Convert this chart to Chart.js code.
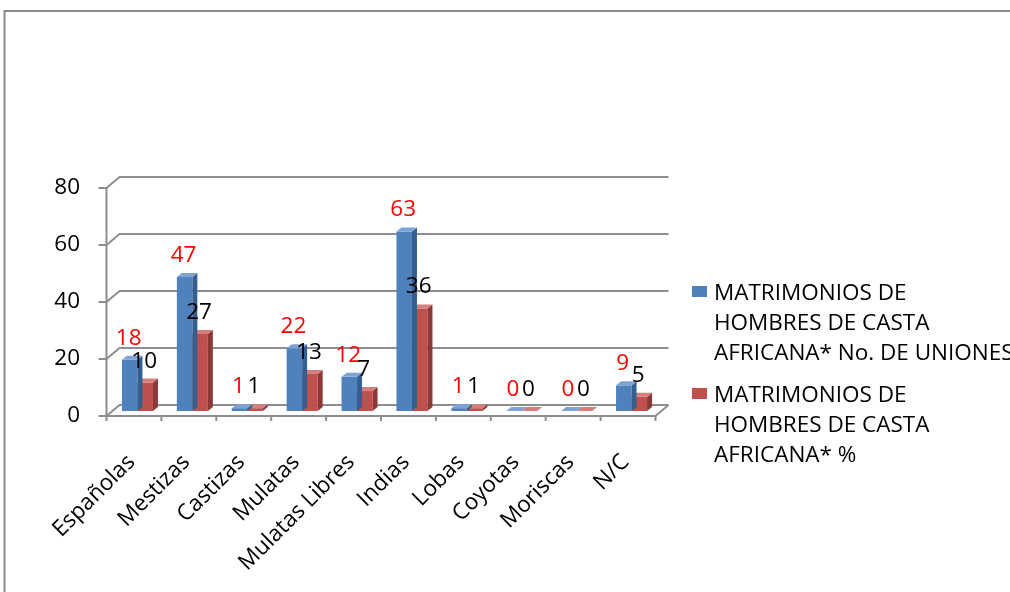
<!DOCTYPE html>
<html>
<head>
<meta charset="utf-8">
<script src="https://cdn.jsdelivr.net/npm/chart.js@4.4.1/dist/chart.umd.min.js"></script>
<style>
  html, body { margin: 0; padding: 0; background: #ffffff; overflow: hidden; }
  #wrap { position: relative; width: 1010px; height: 592px; }
  canvas { display: block; }
</style>
</head>
<body>
<div id="wrap"><canvas id="chart" width="1010" height="592"></canvas></div>
<script>
// Categories (casta of the bride) and the two series
const categories = ['Españolas', 'Mestizas', 'Castizas', 'Mulatas', 'Mulatas Libres', 'Indias', 'Lobas', 'Coyotas', 'Moriscas', 'N/C'];
const unionCounts = [18, 47, 1, 22, 12, 63, 1, 0, 0, 9];
const unionPercents = [10, 27, 1, 13, 7, 36, 1, 0, 0, 5];
const yTickValues = [0, 20, 40, 60, 80];
const seriesNames = [
  ['MATRIMONIOS DE', 'HOMBRES DE CASTA', 'AFRICANA* No. DE UNIONES'],
  ['MATRIMONIOS DE', 'HOMBRES DE CASTA', 'AFRICANA* %']
];
const valueLabelColors = ['#FF0000', '#000000'];

const FONT = '"Open Sans", "Liberation Sans", sans-serif';
const FONT_SIZE = 22.5;

// Face colours for the pseudo-3D columns: front, side, top
const faces = [
  { front: '#4F81BD', side: '#365F91', top: '#7EA3D3' },
  { front: '#C0504D', side: '#8C3836', top: '#D57F7D' }
];

// Offsets of the front plane and back wall relative to the column plane
const FRONT = { dx: -3.5, dy: 5 };
const BACK = { dx: 9.5, dy: -6 };
const DEPTH = { dx: 5, dy: -4 };
const AXIS_COLOR = '#8E8E8E';

const wallPlugin = {
  id: 'wall',
  beforeDraw(chart) {
    const ctx = chart.ctx;
    ctx.save();
    ctx.fillStyle = '#ffffff';
    ctx.fillRect(0, 0, chart.width, chart.height);
    // outer frame
    ctx.strokeStyle = '#8A8A8A';
    ctx.lineWidth = 2;
    ctx.beginPath();
    ctx.moveTo(4.5, chart.height);
    ctx.lineTo(4.5, 11);
    ctx.lineTo(chart.width, 11);
    ctx.stroke();
    ctx.restore();
  },
  beforeDatasetsDraw(chart) {
    const ctx = chart.ctx;
    const y = chart.scales.y;
    const L = chart.chartArea.left, R = chart.chartArea.right;
    ctx.save();
    ctx.strokeStyle = AXIS_COLOR;
    ctx.lineWidth = 2;
    ctx.lineCap = 'butt';
    // wall gridlines: diagonal on the side wall, then along the back wall
    yTickValues.forEach(v => {
      const py = y.getPixelForValue(v);
      ctx.beginPath();
      ctx.moveTo(L + FRONT.dx, py + FRONT.dy);
      ctx.lineTo(L + BACK.dx, py + BACK.dy);
      ctx.lineTo(R + BACK.dx, py + BACK.dy);
      ctx.stroke();
    });
    // floor: front edge and right edge
    const p0 = y.getPixelForValue(0);
    ctx.beginPath();
    ctx.moveTo(L + FRONT.dx, p0 + FRONT.dy);
    ctx.lineTo(R + FRONT.dx, p0 + FRONT.dy);
    ctx.lineTo(R + BACK.dx, p0 + BACK.dy);
    ctx.stroke();
    // vertical value axis on the front plane with tick marks
    const pTop = y.getPixelForValue(yTickValues[yTickValues.length - 1]);
    ctx.beginPath();
    ctx.moveTo(L + FRONT.dx, pTop + FRONT.dy);
    ctx.lineTo(L + FRONT.dx, p0 + FRONT.dy + 5);
    ctx.stroke();
    yTickValues.forEach(v => {
      const py = y.getPixelForValue(v) + FRONT.dy;
      ctx.beginPath();
      ctx.moveTo(L + FRONT.dx - 8, py);
      ctx.lineTo(L + FRONT.dx, py);
      ctx.stroke();
    });
    // category tick marks between categories
    const step = (R - L) / categories.length;
    for (let k = 1; k <= categories.length; k++) {
      const px = L + step * k + FRONT.dx;
      ctx.beginPath();
      ctx.moveTo(px, p0 + FRONT.dy);
      ctx.lineTo(px, p0 + FRONT.dy + 5);
      ctx.stroke();
    }
    ctx.restore();
  },
  afterDatasetDraw(chart, args) {
    // side and top faces of each column, drawn right after its series so the
    // next series' columns overlap correctly
    const ctx = chart.ctx;
    const f = faces[args.index];
    ctx.save();
    args.meta.data.forEach(bar => {
      const half = bar.width / 2;
      const left = bar.x - half, right = bar.x + half;
      const top = Math.min(bar.y, bar.base), base = bar.base;
      ctx.fillStyle = f.side;
      ctx.beginPath();
      ctx.moveTo(right, top);
      ctx.lineTo(right + DEPTH.dx, top + DEPTH.dy);
      ctx.lineTo(right + DEPTH.dx, base + DEPTH.dy);
      ctx.lineTo(right, base);
      ctx.closePath();
      ctx.fill();
      ctx.fillStyle = f.top;
      ctx.beginPath();
      ctx.moveTo(left, top);
      ctx.lineTo(left + DEPTH.dx, top + DEPTH.dy);
      ctx.lineTo(right + DEPTH.dx, top + DEPTH.dy);
      ctx.lineTo(right, top);
      ctx.closePath();
      ctx.fill();
    });
    ctx.restore();
  },
  afterDatasetsDraw(chart) {
    // value labels above the columns
    const ctx = chart.ctx;
    ctx.save();
    ctx.font = FONT_SIZE + 'px ' + FONT;
    ctx.textAlign = 'center';
    ctx.textBaseline = 'alphabetic';
    chart.data.datasets.forEach((ds, i) => {
      const meta = chart.getDatasetMeta(i);
      ctx.fillStyle = valueLabelColors[i];
      meta.data.forEach((bar, j) => {
        ctx.fillText(String(ds.data[j]), bar.x - 1, bar.y - 15);
      });
    });
    ctx.restore();
  },
  afterDraw(chart) {
    // legend on the right
    const ctx = chart.ctx;
    ctx.save();
    ctx.font = FONT_SIZE + 'px ' + FONT;
    ctx.textAlign = 'left';
    ctx.textBaseline = 'alphabetic';
    const firstLine = [292, 394];
    chart.data.datasets.forEach((ds, i) => {
      const cy = firstLine[i];
      ctx.fillStyle = faces[i].front;
      ctx.fillRect(692, cy - 6, 15, 11);
      ctx.fillStyle = '#000000';
      seriesNames[i].forEach((line, k) => {
        ctx.fillText(line, 714, cy + 8 + k * 30);
      });
    });
    ctx.restore();
  }
};

new Chart(document.getElementById('chart'), {
  type: 'bar',
  data: {
    labels: categories,
    datasets: [
      { label: seriesNames[0].join(' '), data: unionCounts, backgroundColor: faces[0].front, borderWidth: 0 },
      { label: seriesNames[1].join(' '), data: unionPercents, backgroundColor: faces[1].front, borderWidth: 0 }
    ]
  },
  options: {
    responsive: false,
    devicePixelRatio: 1,
    animation: false,
    events: [],
    barPercentage: 1,
    categoryPercentage: 0.565,
    layout: { padding: { left: 50, right: 351, top: 183, bottom: 4 } },
    plugins: { legend: { display: false }, tooltip: { enabled: false } },
    scales: {
      x: {
        grid: { display: false },
        border: { display: false },
        ticks: {
          autoSkip: false,
          minRotation: 45,
          maxRotation: 45,
          padding: 30,
          labelOffset: -6,
          color: '#000000',
          font: { family: FONT, size: FONT_SIZE }
        },
        afterFit(scale) { scale.height = 177; }
      },
      y: {
        min: 0,
        max: 80,
        grid: { display: false },
        border: { display: false },
        ticks: {
          stepSize: 20,
          padding: 22,
          labelOffset: 5,
          color: '#000000',
          font: { family: FONT, size: FONT_SIZE }
        },
        afterFit(scale) { scale.width = 60; }
      }
    }
  },
  plugins: [wallPlugin]
});
</script>
</body>
</html>
